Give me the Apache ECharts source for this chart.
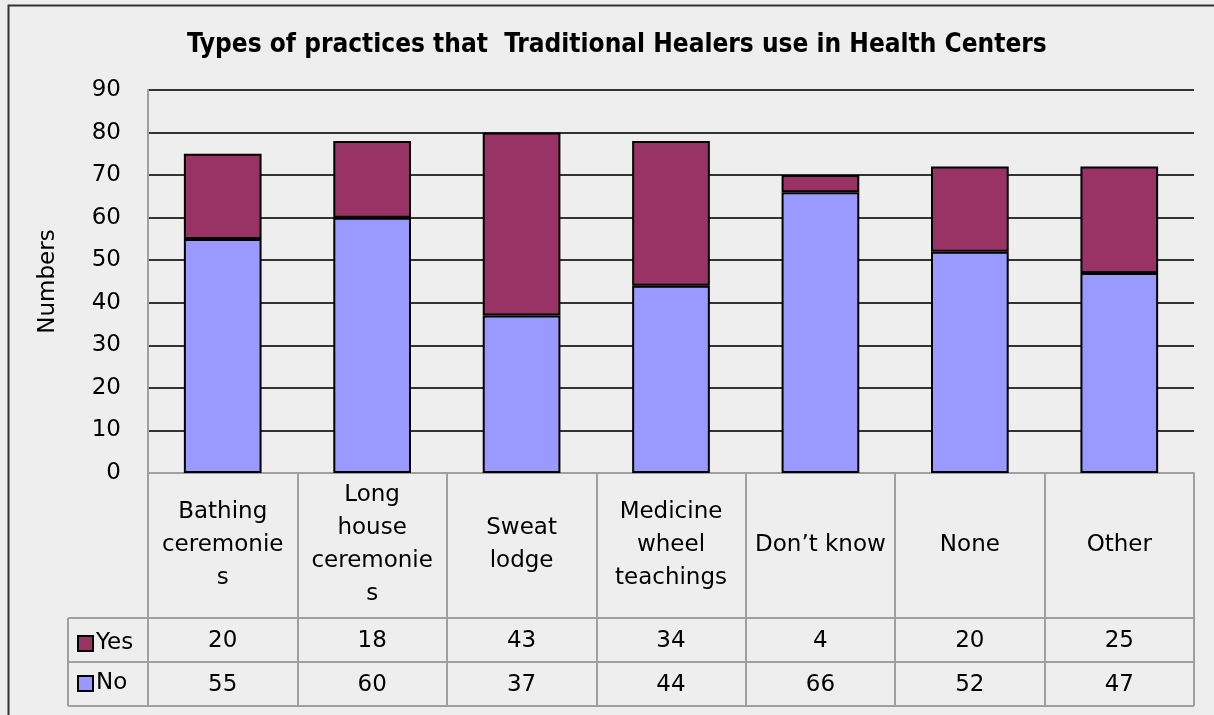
<!DOCTYPE html>
<html>
<head>
<meta charset="utf-8">
<title>Types of practices</title>
<script src="https://cdn.jsdelivr.net/npm/echarts@6/dist/echarts.min.js"></script>
<style>
  html, body { margin: 0; padding: 0; background: #eeeeee; }
  #chart { width: 1214px; height: 715px; }
</style>
</head>
<body>
<div id="chart"></div>
<script>
// categories as shown in the data table (wrapped the same way as the picture)
const categories = ['Bathing ceremonies', 'Long house ceremonies', 'Sweat lodge', 'Medicine wheel teachings', 'Don’t know', 'None', 'Other']
const categoryLabels = ['Bathing\nceremonie\ns', 'Long\nhouse\nceremonie\ns', 'Sweat\nlodge', 'Medicine\nwheel\nteachings', 'Don’t know', 'None', 'Other']
const yesValues = [20, 18, 43, 34, 4, 20, 25]
const noValues = [55, 60, 37, 44, 66, 52, 47]
const yTicks = { min: 0, max: 90, interval: 10 }

const font = 'DejaVu Sans'
const fontSize = 23
const gridLeft = 148
const gridRight = 1194
const gridBottom = 473
const tableLeft = 68
const rowLines = [618, 662, 706]

const chart = echarts.init(document.getElementById('chart'))

// table frame lines that sit outside the axes (legend column + row separators)
const tableLines = rowLines.map(function (y) {
  return {
    type: 'line',
    shape: { x1: tableLeft, y1: y, x2: gridRight, y2: y },
    style: { stroke: '#a0a0a0', lineWidth: 2 }
  }
})
tableLines.push({
  type: 'line',
  shape: { x1: tableLeft, y1: rowLines[0], x2: tableLeft, y2: rowLines[2] },
  style: { stroke: '#a0a0a0', lineWidth: 2 }
})

function valueAxis (values, margin) {
  return {
    type: 'category',
    data: categories,
    position: 'bottom',
    axisLine: { show: false },
    axisTick: { show: false },
    axisLabel: {
      interval: 0,
      margin: margin,
      verticalAlign: 'middle',
      fontFamily: font,
      fontSize: fontSize,
      color: '#000',
      formatter: function (v, i) { return String(values[i]) }
    }
  }
}

chart.setOption({
  backgroundColor: '#eeeeee',
  animation: false,
  title: {
    text: 'Types of practices that  Traditional Healers use in Health Centers',
    left: 182,
    top: 27,
    textStyle: {
      fontFamily: 'DejaVu Sans Condensed',
      fontWeight: 'bold',
      fontSize: 26,
      color: '#000'
    }
  },
  legend: {
    data: ['Yes', 'No'],
    orient: 'vertical',
    left: 72,
    top: 627,
    itemWidth: 15,
    itemHeight: 15,
    itemGap: 17,
    icon: 'rect',
    selectedMode: false,
    textStyle: { fontFamily: font, fontSize: fontSize, color: '#000', padding: [0, 0, 0, -2] }
  },
  grid: {
    left: gridLeft,
    right: 1214 - gridRight,
    top: 90,
    bottom: 715 - gridBottom,
    containLabel: false
  },
  xAxis: [
    {
      type: 'category',
      data: categories,
      axisLine: { show: true, lineStyle: { color: '#a0a0a0', width: 2 } },
      axisTick: {
        show: true,
        inside: false,
        length: rowLines[2] - gridBottom,
        lineStyle: { color: '#a0a0a0', width: 2 }
      },
      axisLabel: {
        interval: 0,
        margin: 72,
        verticalAlign: 'middle',
        lineHeight: 33,
        fontFamily: font,
        fontSize: fontSize,
        color: '#000',
        formatter: function (v, i) { return categoryLabels[i] }
      }
    },
    valueAxis(yesValues, 168),
    valueAxis(noValues, 212)
  ],
  yAxis: {
    type: 'value',
    min: yTicks.min,
    max: yTicks.max,
    interval: yTicks.interval,
    name: 'Numbers',
    nameLocation: 'middle',
    nameRotate: 90,
    nameGap: 88,
    nameTextStyle: { fontFamily: font, fontSize: fontSize, color: '#000' },
    axisLine: { show: true, lineStyle: { color: '#a0a0a0', width: 2 } },
    axisTick: { show: false },
    axisLabel: { margin: 27, fontFamily: font, fontSize: fontSize, color: '#000' },
    splitLine: { show: true, lineStyle: { color: '#333333', width: 2 } }
  },
  series: [
    {
      name: 'No',
      type: 'bar',
      stack: 'total',
      barWidth: '52%',
      data: noValues,
      itemStyle: { color: '#9999ff', borderColor: '#000', borderWidth: 2 }
    },
    {
      name: 'Yes',
      type: 'bar',
      stack: 'total',
      barWidth: '52%',
      data: yesValues,
      itemStyle: { color: '#993366', borderColor: '#000', borderWidth: 2 }
    }
  ],
  graphic: tableLines.concat([
    // outer chart border (top and left edges visible in the picture)
    {
      type: 'polyline',
      shape: { points: [[8.5, 715], [8.5, 5.5], [1216, 5.5]] },
      style: { stroke: '#333', lineWidth: 2, fill: null }
    }
  ])
})
</script>
</body>
</html>
